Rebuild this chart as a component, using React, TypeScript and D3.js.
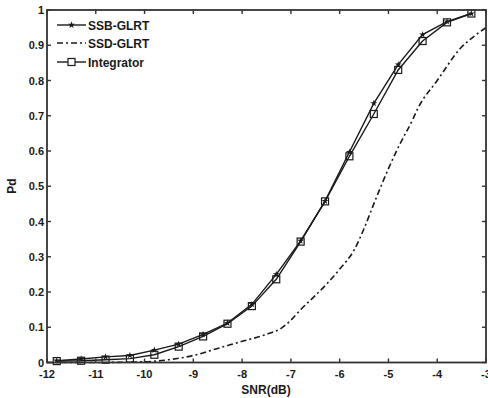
import React, { useEffect, useRef } from 'react';
import * as d3 from 'd3';

// SNR grid of the marked curves (dB)
const snrMarked = [-11.8, -11.3, -10.8, -10.3, -9.8, -9.3, -8.8, -8.3, -7.8, -7.3, -6.8, -6.3, -5.8, -5.3, -4.8, -4.3, -3.8, -3.3];
const ssbGlrt = [0.005, 0.01, 0.016, 0.02, 0.035, 0.052, 0.08, 0.112, 0.165, 0.25, 0.345, 0.458, 0.597, 0.735, 0.845, 0.93, 0.967, 0.99];
const integrator = [0.004, 0.005, 0.008, 0.011, 0.022, 0.045, 0.074, 0.11, 0.16, 0.236, 0.343, 0.457, 0.585, 0.705, 0.83, 0.912, 0.965, 0.99];

// SSD-GLRT is drawn without markers
const snrSsd = [-12, -11, -10, -9.5, -9, -8.5, -8, -7.5, -7.2, -7, -6.8, -6.5, -6.25, -6, -5.7, -5.5, -5.3, -5, -4.8, -4.5, -4.4, -4, -3.5, -3.2, -3];
const ssdGlrt = [0, 0, 0.002, 0.008, 0.02, 0.04, 0.06, 0.08, 0.097, 0.12, 0.15, 0.19, 0.225, 0.265, 0.32, 0.38, 0.45, 0.55, 0.61, 0.69, 0.72, 0.8, 0.895, 0.93, 0.95];

const xTicks = [-12, -11, -10, -9, -8, -7, -6, -5, -4, -3];
const yTicks = [0, 0.1, 0.2, 0.3, 0.4, 0.5, 0.6, 0.7, 0.8, 0.9, 1];
const legendNames = ['SSB-GLRT', 'SSD-GLRT', 'Integrator'];

const App = () => {
    const svgRef = useRef(null);

    useEffect(() => {
        document.body.style.margin = '0';
        const svg = d3.select(svgRef.current);
        svg.selectAll('*').remove();

        const left = 47, right = 486, top = 10, bottom = 362.5;
        const x = d3.scaleLinear().domain([-12, -3]).range([left, right]);
        const y = d3.scaleLinear().domain([0, 1]).range([bottom, top]);
        const font = 'Liberation Sans, Arial, sans-serif';
        const ink = '#1a1a1a';

        svg.append('rect').attr('width', 488).attr('height', 398).attr('fill', 'white');

        // curves
        const line = d3.line().x(d => x(d[0])).y(d => y(d[1]));
        svg.append('path')
            .attr('d', line.curve(d3.curveMonotoneX)(snrSsd.map((s, i) => [s, ssdGlrt[i]])))
            .attr('fill', 'none').attr('stroke', ink).attr('stroke-width', 1.6)
            .attr('stroke-dasharray', '6,3,2,3');
        line.curve(d3.curveLinear);
        svg.append('path')
            .attr('d', line(snrMarked.map((s, i) => [s, integrator[i]])))
            .attr('fill', 'none').attr('stroke', ink).attr('stroke-width', 1.4);
        svg.append('path')
            .attr('d', line(snrMarked.map((s, i) => [s, ssbGlrt[i]])))
            .attr('fill', 'none').attr('stroke', ink).attr('stroke-width', 1.4);

        const star = d3.symbol().type(d3.symbolStar).size(15);
        snrMarked.forEach((s, i) => {
            svg.append('rect')
                .attr('x', x(s) - 3.5).attr('y', y(integrator[i]) - 3.5)
                .attr('width', 7).attr('height', 7)
                .attr('fill', 'none').attr('stroke', ink).attr('stroke-width', 1.2);
            svg.append('path').attr('d', star())
                .attr('transform', `translate(${x(s)},${y(ssbGlrt[i])})`)
                .attr('fill', ink);
        });

        // frame and ticks
        svg.append('rect')
            .attr('x', left).attr('y', top).attr('width', right - left).attr('height', bottom - top)
            .attr('fill', 'none').attr('stroke', '#333').attr('stroke-width', 1.8);

        xTicks.forEach(t => {
            svg.append('line').attr('x1', x(t)).attr('x2', x(t)).attr('y1', bottom).attr('y2', bottom - 4)
                .attr('stroke', '#333').attr('stroke-width', 1.4);
            svg.append('line').attr('x1', x(t)).attr('x2', x(t)).attr('y1', top).attr('y2', top + 4)
                .attr('stroke', '#333').attr('stroke-width', 1.4);
            svg.append('text').attr('x', x(t)).attr('y', bottom + 15)
                .attr('text-anchor', 'middle').attr('font-family', font).attr('font-weight', 'bold')
                .attr('font-size', 11).attr('fill', ink).text(t);
        });
        yTicks.forEach(t => {
            svg.append('line').attr('x1', left).attr('x2', left + 4).attr('y1', y(t)).attr('y2', y(t))
                .attr('stroke', '#333').attr('stroke-width', 1.4);
            svg.append('line').attr('x1', right).attr('x2', right - 4).attr('y1', y(t)).attr('y2', y(t))
                .attr('stroke', '#333').attr('stroke-width', 1.4);
            svg.append('text').attr('x', left - 3).attr('y', y(t) + 4)
                .attr('text-anchor', 'end').attr('font-family', font).attr('font-weight', 'bold')
                .attr('font-size', 11).attr('fill', ink).text(String(t));
        });

        svg.append('text').attr('x', 266).attr('y', 394)
            .attr('text-anchor', 'middle').attr('font-family', font).attr('font-weight', 'bold')
            .attr('font-size', 12).attr('fill', ink).text('SNR(dB)');
        svg.append('text').attr('transform', 'translate(16,186) rotate(-90)')
            .attr('text-anchor', 'middle').attr('font-family', font).attr('font-weight', 'bold')
            .attr('font-size', 12).attr('fill', ink).text('Pd');

        // legend
        const rows = [25, 43, 62];
        legendNames.forEach((name, i) => {
            const ly = rows[i];
            const l = svg.append('line').attr('x1', 57).attr('x2', 86).attr('y1', ly).attr('y2', ly)
                .attr('stroke', ink).attr('stroke-width', 1.4);
            if (i === 1) l.attr('stroke-dasharray', '6,3,2,3');
            if (i === 0) {
                svg.append('path').attr('d', star()).attr('transform', `translate(71.5,${ly})`).attr('fill', ink);
            }
            if (i === 2) {
                svg.append('rect').attr('x', 68).attr('y', ly - 3.5).attr('width', 7).attr('height', 7)
                    .attr('fill', 'white').attr('stroke', ink).attr('stroke-width', 1.2);
            }
            svg.append('text').attr('x', 88).attr('y', ly + 4.5)
                .attr('font-family', font).attr('font-weight', 'bold')
                .attr('font-size', 12).attr('fill', ink).text(name);
        });
    }, []);

    return <svg ref={svgRef} width={488} height={398} style={{ display: 'block' }}></svg>;
};

export default App;
